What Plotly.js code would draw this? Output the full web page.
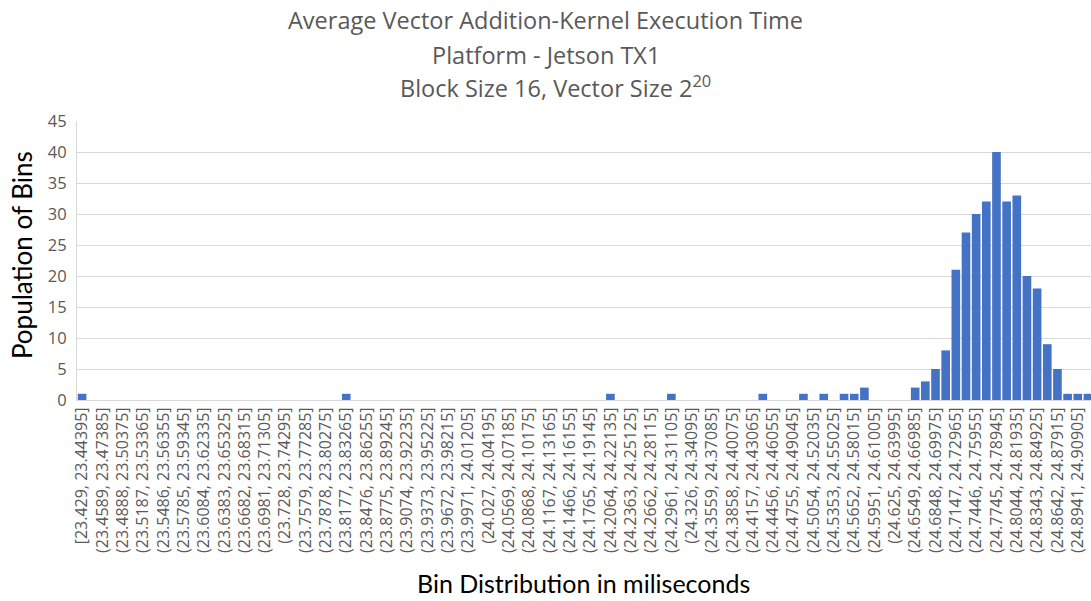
<!DOCTYPE html>
<html>
<head>
<meta charset="utf-8">
<script src="https://cdn.plot.ly/plotly-3.0.1.min.js"></script>
<style>
html,body{margin:0;padding:0;overflow:hidden;background:#fff;}
#chart{width:1093px;height:601px;}
</style>
</head>
<body>
<div id="chart"></div>
<script>
// Bin labels (100 bins, width 0.01495 ms)
const binLabels = [
"[23.429, 23.44395]","(23.44395, 23.4589]","(23.4589, 23.47385]","(23.47385, 23.4888]","(23.4888, 23.50375]",
"(23.50375, 23.5187]","(23.5187, 23.53365]","(23.53365, 23.5486]","(23.5486, 23.56355]","(23.56355, 23.5785]",
"(23.5785, 23.59345]","(23.59345, 23.6084]","(23.6084, 23.62335]","(23.62335, 23.6383]","(23.6383, 23.65325]",
"(23.65325, 23.6682]","(23.6682, 23.68315]","(23.68315, 23.6981]","(23.6981, 23.71305]","(23.71305, 23.728]",
"(23.728, 23.74295]","(23.74295, 23.7579]","(23.7579, 23.77285]","(23.77285, 23.7878]","(23.7878, 23.80275]",
"(23.80275, 23.8177]","(23.8177, 23.83265]","(23.83265, 23.8476]","(23.8476, 23.86255]","(23.86255, 23.8775]",
"(23.8775, 23.89245]","(23.89245, 23.9074]","(23.9074, 23.92235]","(23.92235, 23.9373]","(23.9373, 23.95225]",
"(23.95225, 23.9672]","(23.9672, 23.98215]","(23.98215, 23.9971]","(23.9971, 24.01205]","(24.01205, 24.027]",
"(24.027, 24.04195]","(24.04195, 24.0569]","(24.0569, 24.07185]","(24.07185, 24.0868]","(24.0868, 24.10175]",
"(24.10175, 24.1167]","(24.1167, 24.13165]","(24.13165, 24.1466]","(24.1466, 24.16155]","(24.16155, 24.1765]",
"(24.1765, 24.19145]","(24.19145, 24.2064]","(24.2064, 24.22135]","(24.22135, 24.2363]","(24.2363, 24.25125]",
"(24.25125, 24.2662]","(24.2662, 24.28115]","(24.28115, 24.2961]","(24.2961, 24.31105]","(24.31105, 24.326]",
"(24.326, 24.34095]","(24.34095, 24.3559]","(24.3559, 24.37085]","(24.37085, 24.3858]","(24.3858, 24.40075]",
"(24.40075, 24.4157]","(24.4157, 24.43065]","(24.43065, 24.4456]","(24.4456, 24.46055]","(24.46055, 24.4755]",
"(24.4755, 24.49045]","(24.49045, 24.5054]","(24.5054, 24.52035]","(24.52035, 24.5353]","(24.5353, 24.55025]",
"(24.55025, 24.5652]","(24.5652, 24.58015]","(24.58015, 24.5951]","(24.5951, 24.61005]","(24.61005, 24.625]",
"(24.625, 24.63995]","(24.63995, 24.6549]","(24.6549, 24.66985]","(24.66985, 24.6848]","(24.6848, 24.69975]",
"(24.69975, 24.7147]","(24.7147, 24.72965]","(24.72965, 24.7446]","(24.7446, 24.75955]","(24.75955, 24.7745]",
"(24.7745, 24.78945]","(24.78945, 24.8044]","(24.8044, 24.81935]","(24.81935, 24.8343]","(24.8343, 24.84925]",
"(24.84925, 24.8642]","(24.8642, 24.87915]","(24.87915, 24.8941]","(24.8941, 24.90905]","(24.90905, 24.924]"
];

// Population per bin
const binCounts = [
1,0,0,0,0, 0,0,0,0,0,
0,0,0,0,0, 0,0,0,0,0,
0,0,0,0,0, 0,1,0,0,0,
0,0,0,0,0, 0,0,0,0,0,
0,0,0,0,0, 0,0,0,0,0,
0,0,1,0,0, 0,0,0,1,0,
0,0,0,0,0, 0,0,1,0,0,
0,1,0,1,0, 1,1,2,0,0,
0,0,2,3,5, 8,21,27,30,32,
40,32,33,20,18, 9,5,1,1,1
];

// Only every other bin label is shown on the axis
const shownTicks = binLabels.filter((_, i) => i % 2 === 0);

const yTicks = [0,5,10,15,20,25,30,35,40,45];

const titleLines = [
  "Average Vector Addition-Kernel Execution Time",
  "Platform - Jetson TX1",
  "Block Size 16, Vector Size 2<sup>20</sup>"
];
const titleLineY = [1.362, 1.237, 1.122];
const titleLineX = [0.4615, 0.4615, 0.471];

const titleFont = {family: 'Open Sans, sans-serif', size: 23.5, color: '#595959'};

const data = [{
  type: 'bar',
  x: binLabels,
  y: binCounts,
  marker: {color: '#4472c4', line: {color: '#4472c4', width: 0}},
  hoverinfo: 'x+y'
}];

const annotations = titleLines.map((t, i) => ({
  text: t,
  xref: 'paper', yref: 'paper',
  x: titleLineX[i], y: titleLineY[i],
  xanchor: 'center', yanchor: 'middle',
  showarrow: false,
  font: titleFont
}));

annotations.push(
  {
    text: 'Population of Bins',
    xref: 'paper', yref: 'paper',
    x: -0.054, y: 0.52,
    xanchor: 'center', yanchor: 'middle',
    textangle: -90, showarrow: false,
    font: {family: 'Lato, sans-serif', size: 26, color: '#000000'}
  },
  {
    text: 'Bin Distribution in miliseconds',
    xref: 'paper', yref: 'paper',
    x: 0.4985, y: -0.656,
    xanchor: 'center', yanchor: 'middle',
    showarrow: false,
    font: {family: 'Lato, sans-serif', size: 25, color: '#000000'}
  }
);

const layout = {
  width: 1093,
  height: 601,
  margin: {l: 77, r: 0, t: 121, b: 201, pad: 0},
  paper_bgcolor: '#ffffff',
  plot_bgcolor: '#ffffff',
  showlegend: false,
  bargap: 0.15,
  xaxis: {
    type: 'category',
    tickmode: 'array',
    tickvals: shownTicks,
    ticktext: shownTicks,
    tickangle: -90,
    tickfont: {family: 'Open Sans, sans-serif', size: 16, color: '#595959'},
    showgrid: false,
    showline: true,
    linecolor: '#d9d9d9',
    ticks: '',
    automargin: false,
    fixedrange: true
  },
  yaxis: {
    range: [0, 45],
    tickmode: 'array',
    tickvals: yTicks,
    tickfont: {family: 'Open Sans, sans-serif', size: 16.5, color: '#595959'},
    showgrid: true,
    gridcolor: '#d9d9d9',
    gridwidth: 1,
    zeroline: true,
    zerolinecolor: '#d9d9d9',
    showline: true,
    linecolor: '#d9d9d9',
    ticks: '',
    ticklabelstandoff: 6,
    automargin: false,
    fixedrange: true
  },
  annotations: annotations
};

Plotly.newPlot('chart', data, layout, {displayModeBar: false, staticPlot: true});
</script>
</body>
</html>
